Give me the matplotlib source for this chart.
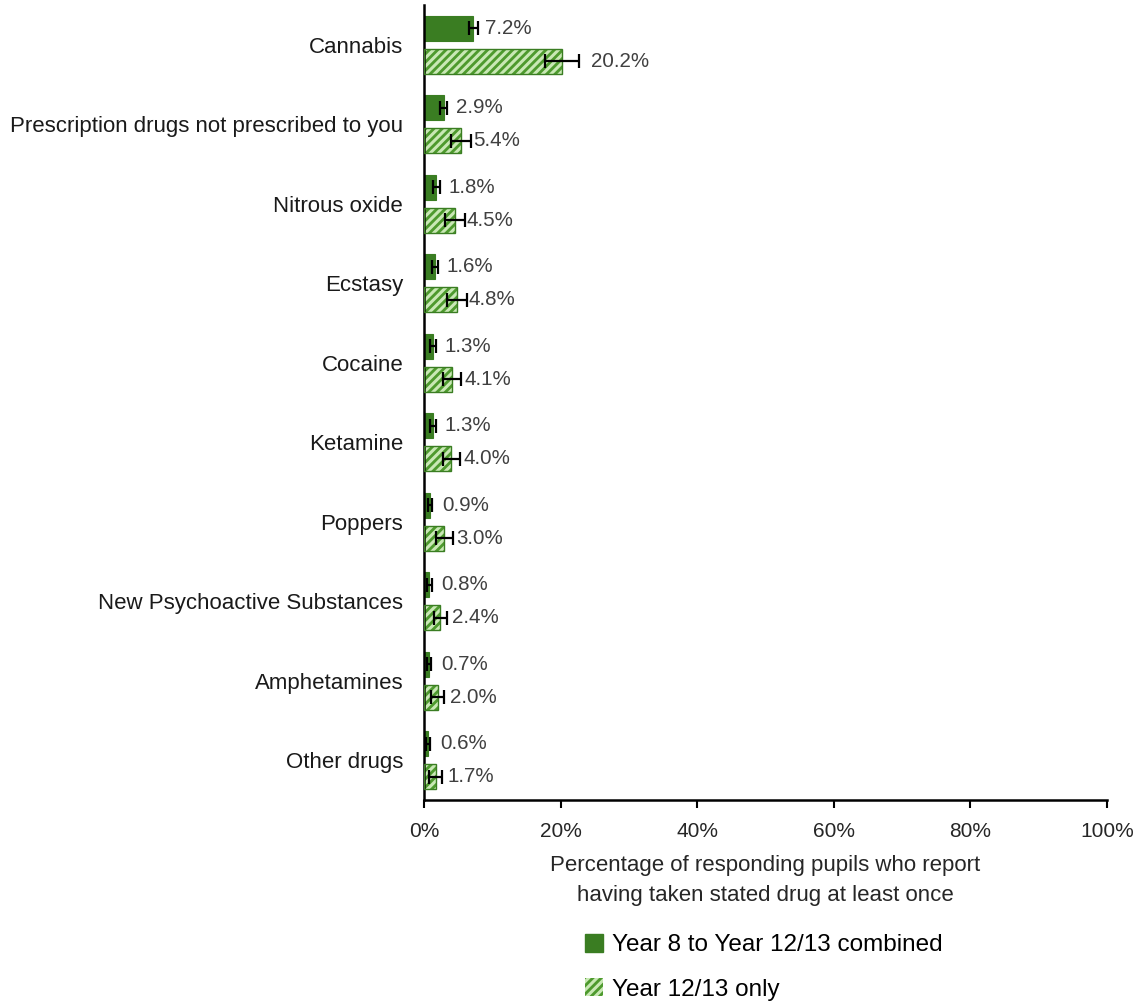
import matplotlib
matplotlib.use("Agg")
import matplotlib.pyplot as plt
import numpy as np
from matplotlib.patches import Patch

plt.rcParams['font.family'] = ['Liberation Sans', 'DejaVu Sans']
plt.rcParams['hatch.linewidth'] = 2.2

categories = ["Cannabis", "Prescription drugs not prescribed to you", "Nitrous oxide",
              "Ecstasy", "Cocaine", "Ketamine", "Poppers", "New Psychoactive Substances",
              "Amphetamines", "Other drugs"]
combined = [7.2, 2.9, 1.8, 1.6, 1.3, 1.3, 0.9, 0.8, 0.7, 0.6]
combined_err = [0.65, 0.5, 0.5, 0.45, 0.4, 0.4, 0.3, 0.3, 0.3, 0.3]
year1213 = [20.2, 5.4, 4.5, 4.8, 4.1, 4.0, 3.0, 2.4, 2.0, 1.7]
year1213_err = [2.5, 1.45, 1.45, 1.45, 1.3, 1.25, 1.25, 0.95, 1.0, 0.95]
series_names = ["Year 8 to Year 12/13 combined", "Year 12/13 only"]
xticks = [0, 20, 40, 60, 80, 100]
xlabel = "Percentage of responding pupils who report\nhaving taken stated drug at least once"

dark = "#3A7D22"
hatch_face = "#4E9A2E"
hatch_col = "#C9E8B5"

fig = plt.figure(figsize=(11.33, 10.02), dpi=100)
ax = fig.add_axes([424/1133, 1-800/1002, (1107-424)/1133, 795/1002])

y = np.arange(len(categories))
h = 0.315
off = 0.205
ax.barh(y - off, combined, height=h, color=dark, edgecolor=dark, linewidth=0.8, zorder=2)
ax.barh(y + off, year1213, height=h, color=hatch_face, edgecolor=hatch_col, hatch="////",
        linewidth=0, zorder=2)
ax.barh(y + off, year1213, height=h, fill=False, edgecolor=dark, linewidth=1.0, zorder=3)
ax.errorbar(combined, y - off, xerr=combined_err, fmt='none', ecolor='black',
            elinewidth=1.6, capsize=5, capthick=1.6, zorder=4)
ax.errorbar(year1213, y + off, xerr=year1213_err, fmt='none', ecolor='black',
            elinewidth=1.6, capsize=5, capthick=1.6, zorder=4)

pxper = (1107-424)/100.0
def label(vals, errs, yy):
    for v, e, yi in zip(vals, errs, yy):
        epx = e * pxper
        if epx > 13:
            dx = epx + 12
        else:
            dx = 12
        ax.annotate(f"{v:.1f}%", (v, yi), xytext=(dx*0.72, 0), textcoords='offset points',
                    va='center', ha='left', fontsize=14.8, color='#404040')
label(combined, combined_err, y - off)
label(year1213, year1213_err, y + off)

ax.set_ylim(9.5, -0.5)
ax.set_xlim(0, 100)
ax.set_yticks(y)
ax.set_yticklabels(categories, fontsize=16, color='#1a1a1a')
ax.tick_params(axis='y', length=0, pad=15)
ax.set_xticks(xticks)
ax.set_xticklabels([f"{t}%" for t in xticks], fontsize=15, color='#262626')
ax.tick_params(axis='x', direction='out', length=6, width=1.5, pad=10)
for s in ['top', 'right']:
    ax.spines[s].set_visible(False)
for s in ['left', 'bottom']:
    ax.spines[s].set_linewidth(1.8)
    ax.spines[s].set_color('black')
ax.set_xlabel(xlabel, fontsize=16, color='#262626', linespacing=1.55, labelpad=10)

handles = [Patch(facecolor=dark, edgecolor=dark),
           Patch(facecolor=hatch_face, edgecolor=hatch_col, hatch="////", linewidth=0)]
fig.legend(handles, series_names, loc='upper left', bbox_to_anchor=(585/1133, 1-934/1002),
           frameon=False, fontsize=17.5, handlelength=0.75, handleheight=0.75,
           handletextpad=0.35, labelspacing=0.9, borderaxespad=0, borderpad=0)

fig.savefig("out.png", dpi=100)
